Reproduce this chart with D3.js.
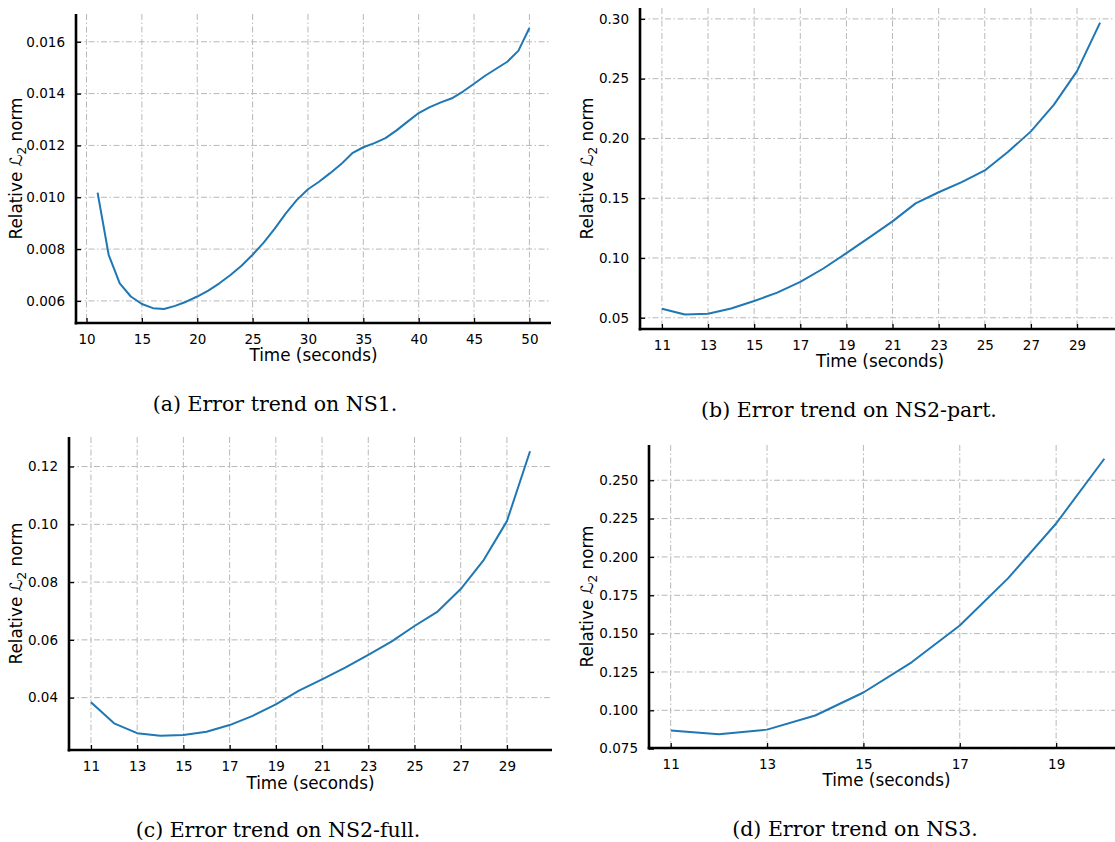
<!DOCTYPE html>
<html>
<head>
<meta charset="utf-8">
<script src="https://cdn.jsdelivr.net/npm/d3@7"></script>
<style>
  html, body { margin: 0; padding: 0; background: #fff; }
  svg { display: block; }
</style>
</head>
<body>
<svg id="chart" width="1115" height="842"></svg>
<script>
// ---------------- DATA ----------------
const timeNS1 = [11,12,13,14,15,16,17,18,19,20,21,22,23,24,25,26,27,28,29,30,
                 31,32,33,34,35,36,37,38,39,40,41,42,43,44,45,46,47,48,49,50];
const errNS1 = [0.01018,0.00778,0.00668,0.00617,0.00588,0.00572,0.00569,0.00581,0.00597,0.00617,
                0.00640,0.00668,0.00700,0.00736,0.00778,0.00825,0.00879,0.00938,0.00990,0.01031,
                0.01060,0.01093,0.01128,0.01170,0.01193,0.01209,0.01228,0.01258,0.01292,0.01325,
                0.01348,0.01366,0.01382,0.01408,0.01438,0.01469,0.01496,0.01523,0.01565,0.01653];

const timeNS2part = [11,12,13,14,15,16,17,18,19,20,21,22,23,24,25,26,27,28,29,30];
const errNS2part = [0.0576,0.0528,0.0534,0.0578,0.0640,0.0710,0.0800,0.0912,0.1040,0.1172,
                    0.1306,0.1457,0.1550,0.1634,0.1732,0.1886,0.2059,0.2283,0.2563,0.2969];

const timeNS2full = [11,12,13,14,15,16,17,18,19,20,21,22,23,24,25,26,27,28,29,30];
const errNS2full = [0.0384,0.0311,0.0277,0.0268,0.0271,0.0282,0.0305,0.0337,0.0377,0.0424,
                    0.0463,0.0504,0.0548,0.0594,0.0648,0.0698,0.0776,0.0877,0.1011,0.1253];

const timeNS3 = [11,12,13,14,15,16,17,18,19,20];
const errNS3 = [0.0868,0.0844,0.0874,0.0966,0.1116,0.1313,0.1553,0.1860,0.2218,0.2640];

const xTicksA = [10,15,20,25,30,35,40,45,50];
const yTicksA = [0.006,0.008,0.010,0.012,0.014,0.016];
const xTicksB = [11,13,15,17,19,21,23,25,27,29];
const yTicksB = [0.05,0.10,0.15,0.20,0.25,0.30];
const xTicksC = [11,13,15,17,19,21,23,25,27,29];
const yTicksC = [0.04,0.06,0.08,0.10,0.12];
const xTicksD = [11,13,15,17,19];
const yTicksD = [0.075,0.100,0.125,0.150,0.175,0.200,0.225,0.250];

const captions = ["(a) Error trend on NS1.", "(b) Error trend on NS2-part.",
                  "(c) Error trend on NS2-full.", "(d) Error trend on NS3."];
const xLabel = "Time (seconds)";

// ---------------- LAYOUT ----------------
const svg = d3.select("#chart");
const LINE_COLOR = "#1f77b4";
const GRID_COLOR = "#b8b8b8";

function pad(ext) {
  const m = (ext[1] - ext[0]) * 0.05;
  return [ext[0] - m, ext[1] + m];
}

function drawPanel(cfg) {
  const { xs, ys, xTicks, yTicks, yFmt, box, caption, capPos, labPos } = cfg;
  const x = d3.scaleLinear().domain(pad(d3.extent(xs))).range([box.left, box.right]);
  const y = d3.scaleLinear().domain(pad(d3.extent(ys))).range([box.bottom, box.top]);
  const g = svg.append("g");

  // grid
  g.append("g").selectAll("line").data(xTicks).join("line")
    .attr("x1", d => x(d)).attr("x2", d => x(d))
    .attr("y1", box.top).attr("y2", box.bottom)
    .attr("stroke", GRID_COLOR).attr("stroke-width", 1)
    .attr("stroke-dasharray", "6,2.5,1.5,2.5");
  g.append("g").selectAll("line").data(yTicks).join("line")
    .attr("x1", box.left).attr("x2", box.right)
    .attr("y1", d => y(d)).attr("y2", d => y(d))
    .attr("stroke", GRID_COLOR).attr("stroke-width", 1)
    .attr("stroke-dasharray", "6,2.5,1.5,2.5");

  // line
  const line = d3.line().x((d, i) => x(xs[i])).y(d => y(d));
  g.append("path").datum(ys)
    .attr("d", line).attr("fill", "none")
    .attr("stroke", LINE_COLOR).attr("stroke-width", 2)
    .attr("stroke-linejoin", "round").attr("stroke-linecap", "butt");

  // axes (ticks inward)
  const xAxis = d3.axisBottom(x).tickValues(xTicks).tickSizeInner(-5).tickSizeOuter(0)
    .tickPadding(11).tickFormat(d3.format("d"));
  const gx = g.append("g").attr("transform", `translate(0,${box.bottom})`).call(xAxis);
  const yAxis = d3.axisLeft(y).tickValues(yTicks).tickSizeInner(-5).tickSizeOuter(0)
    .tickPadding(11).tickFormat(d3.format(yFmt));
  const gy = g.append("g").attr("transform", `translate(${box.left},0)`).call(yAxis);

  [gx, gy].forEach(a => {
    a.select(".domain").remove();
    a.selectAll(".tick line").attr("stroke", "#000").attr("stroke-width", 1.3);
    a.selectAll(".tick text").attr("fill", "#000")
      .style("font-family", "'DejaVu Sans', sans-serif").style("font-size", "13.5px");
  });

  // spines
  g.append("line").attr("x1", box.left).attr("x2", box.left)
    .attr("y1", box.top).attr("y2", box.bottom + 1.5)
    .attr("stroke", "#000").attr("stroke-width", 2.6);
  g.append("line").attr("x1", box.left - 1.3).attr("x2", box.right)
    .attr("y1", box.bottom).attr("y2", box.bottom)
    .attr("stroke", "#000").attr("stroke-width", 2.6);

  // x label
  g.append("text").attr("x", (box.left + box.right) / 2 + (labPos.xdx || 0)).attr("y", labPos.xy)
    .attr("text-anchor", "middle")
    .style("font-family", "'DejaVu Sans', sans-serif").style("font-size", "16.8px")
    .text(xLabel);

  // y label
  const yl = g.append("text")
    .attr("transform", `translate(${labPos.yx},${(box.top + box.bottom) / 2}) rotate(-90)`)
    .attr("text-anchor", "middle")
    .style("font-family", "'DejaVu Sans', sans-serif").style("font-size", "16.8px");
  yl.append("tspan").text("Relative ");
  yl.append("tspan").style("font-style", "italic").text("\u2112");
  yl.append("tspan").attr("dy", 4).style("font-size", "12px").text("2");
  yl.append("tspan").attr("dy", -4).text(" norm");

  // caption
  svg.append("text").attr("x", capPos.x).attr("y", capPos.y)
    .attr("text-anchor", "middle")
    .style("font-family", "'DejaVu Serif', serif").style("font-size", "20.5px")
    .text(caption);
}

drawPanel({ xs: timeNS1, ys: errNS1, xTicks: xTicksA, yTicks: yTicksA, yFmt: ".3f",
  box: { left: 76, right: 551, top: 14, bottom: 323 },
  caption: captions[0], capPos: { x: 275, y: 411 }, labPos: { xy: 361, yx: 22 } });

drawPanel({ xs: timeNS2part, ys: errNS2part, xTicks: xTicksB, yTicks: yTicksB, yFmt: ".2f",
  box: { left: 640, right: 1122, top: 8, bottom: 329 },
  caption: captions[1], capPos: { x: 849, y: 417 }, labPos: { xy: 367, yx: 593, xdx: -1 } });

drawPanel({ xs: timeNS2full, ys: errNS2full, xTicks: xTicksC, yTicks: yTicksC, yFmt: ".2f",
  box: { left: 69, right: 552, top: 437, bottom: 750 },
  caption: captions[2], capPos: { x: 278, y: 837 }, labPos: { xy: 789, yx: 22 } });

drawPanel({ xs: timeNS3, ys: errNS3, xTicks: xTicksD, yTicks: yTicksD, yFmt: ".3f",
  box: { left: 649, right: 1126, top: 445, bottom: 748 },
  caption: captions[3], capPos: { x: 855, y: 836 }, labPos: { xy: 786, yx: 593, xdx: -1 } });
</script>
</body>
</html>
